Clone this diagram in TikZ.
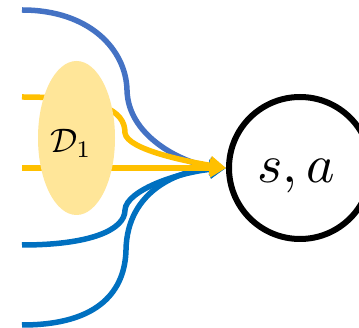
\documentclass[tikz,border=0pt]{standalone}
\usetikzlibrary{arrows.meta,shapes.geometric}
\definecolor{topblue}{HTML}{4472C4}
\definecolor{lowblue}{HTML}{0070C0}
\definecolor{gold}{HTML}{FFC000}
\definecolor{lightgold}{HTML}{FFE699}
\begin{document}
\begin{tikzpicture}[x=1pt,y=-1pt,
  flow/.style={line width=5.5pt,-{Triangle[length=16pt,width=18pt]}},
  state/.style={circle,draw=black,line width=6pt,minimum size=142pt,inner sep=0pt}]
\clip (0,0) rectangle (359,328);
\fill[white] (0,0) rectangle (359,328);
\node[state] (sa) at (300,168) {};
\node[anchor=base,scale=5.4] (lab) at (296,183) {$s,a$};
\coordinate (t1) at (22,10);
\coordinate (y1) at (22,97);
\coordinate (y2) at (22,168);
\coordinate (b1) at (22,245);
\coordinate (b2) at (22,325);
\draw[flow,topblue] (t1) .. controls (90,10) and (126,50) .. (127,90) .. controls (128,140) and (190,165) .. (sa.west);
\draw[flow,lowblue] (b1) .. controls (90,245) and (125,230) .. (125,210) .. controls (126,190) and (180,172) .. (sa.west);
\draw[flow,lowblue] (b2) .. controls (100,325) and (125,290) .. (126,250) .. controls (127,190) and (180,170) .. (sa.west);
\draw[flow,gold] (y1) .. controls (100,97) and (125,110) .. (125,133) .. controls (127,150) and (190,162) .. (sa.west);
\draw[flow,gold] (y2) -- (sa.west);
\node[ellipse,fill=lightgold,minimum width=77pt,minimum height=154pt,inner sep=0pt] (d1) at (76.5,138) {};
\node[scale=3.4] (dlab) at (71,143) {$\mathcal{D}_1$};
\end{tikzpicture}
\end{document}
